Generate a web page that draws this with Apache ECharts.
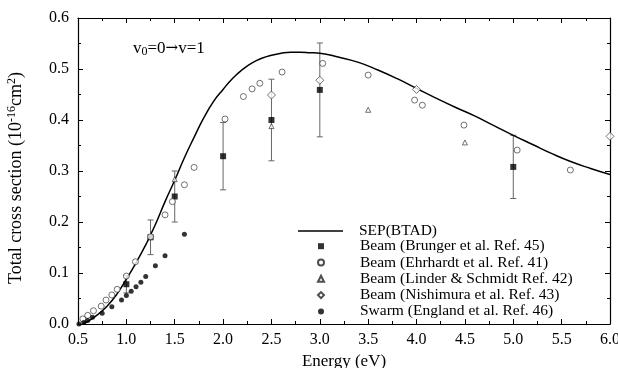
<!DOCTYPE html>
<html>
<head>
<meta charset="utf-8">
<script src="https://cdn.jsdelivr.net/npm/echarts@6/dist/echarts.min.js"></script>
<style>
html,body{margin:0;padding:0;background:#fff;}
#chart{width:618px;height:368px;}
</style>
</head>
<body>
<div id="chart"></div>
<script>
// ---- Data ----
var xTicks = [0.5, 1.0, 1.5, 2.0, 2.5, 3.0, 3.5, 4.0, 4.5, 5.0, 5.5, 6.0];
var yTicks = [0.0, 0.1, 0.2, 0.3, 0.4, 0.5, 0.6];

var sepX = [0.55, 0.6, 0.7, 0.8, 0.9, 1.0, 1.1, 1.2, 1.25, 1.3, 1.4, 1.5, 1.6, 1.7, 1.8, 1.9, 2.0, 2.1, 2.2, 2.3, 2.4, 2.5, 2.6, 2.7, 2.8, 2.9, 3.0, 3.2, 3.4, 3.6, 3.8, 4.0, 4.2, 4.4, 4.6, 4.8, 5.0, 5.2, 5.4, 5.6, 5.8, 6.0];
var sepY = [0.0, 0.005, 0.018, 0.035, 0.058, 0.088, 0.12, 0.155, 0.175, 0.195, 0.24, 0.282, 0.326, 0.366, 0.404, 0.436, 0.46, 0.482, 0.499, 0.512, 0.521, 0.527, 0.531, 0.533, 0.533, 0.532, 0.531, 0.523, 0.513, 0.498, 0.481, 0.462, 0.443, 0.425, 0.408, 0.389, 0.37, 0.352, 0.334, 0.318, 0.305, 0.293];

var brungerX = [1.0, 1.25, 1.5, 2.0, 2.5, 3.0, 5.0];
var brungerY = [0.078, 0.170, 0.250, 0.329, 0.400, 0.459, 0.308];
var brungerErr = [0.017, 0.034, 0.050, 0.066, 0.080, 0.092, 0.062];

var ehrhardtX = [0.55, 0.60, 0.66, 0.74, 0.79, 0.85, 0.905, 1.0, 1.094, 1.25, 1.40, 1.476, 1.60, 1.70, 2.02, 2.21, 2.30, 2.38, 2.61, 3.03, 3.50, 3.98, 4.06, 4.49, 5.04, 5.59];
var ehrhardtY = [0.010, 0.017, 0.026, 0.035, 0.047, 0.057, 0.068, 0.094, 0.122, 0.171, 0.214, 0.240, 0.273, 0.307, 0.402, 0.446, 0.461, 0.472, 0.494, 0.511, 0.488, 0.439, 0.429, 0.390, 0.341, 0.302];

var linderX = [1.5, 2.5, 3.5, 4.5];
var linderY = [0.284, 0.388, 0.420, 0.356];

var nishimuraX = [2.5, 3.0, 4.0, 6.0];
var nishimuraY = [0.449, 0.478, 0.460, 0.368];

var swarmX = [0.51, 0.56, 0.60, 0.65, 0.75, 0.85, 0.95, 1.0, 1.05, 1.10, 1.15, 1.20, 1.30, 1.40, 1.60];
var swarmY = [0.0, 0.003, 0.007, 0.013, 0.021, 0.034, 0.047, 0.056, 0.064, 0.073, 0.082, 0.093, 0.114, 0.134, 0.176];

var seriesNames = ['SEP(BTAD)', 'Beam (Brunger et al. Ref. 45)', 'Beam (Ehrhardt et al. Ref. 41)', 'Beam (Linder & Schmidt Ref. 42)', 'Beam (Nishimura et al. Ref. 43)', 'Swarm (England et al. Ref. 46)'];

function zip(a, b) { return a.map(function (v, i) { return [v, b[i]]; }); }

var FONT = 'Liberation Serif';
var chart = echarts.init(document.getElementById('chart'), null, {renderer: 'canvas'});

function axisBase(pos, showLabel, minV, maxV, interval, isX) {
  return {
    type: 'value', position: pos, min: minV, max: maxV, interval: interval,
    axisLine: {show: true, onZero: false, lineStyle: {color: '#000', width: 1.2}},
    axisTick: {show: true, inside: true, length: 5, lineStyle: {color: '#000', width: 1}},
    minorTick: {show: true, splitNumber: 2, length: 3, lineStyle: {color: '#000', width: 1}},
    splitLine: {show: false},
    axisLabel: {
      show: showLabel, color: '#000', fontFamily: FONT, fontSize: 16, margin: isX ? 8 : 9,
      formatter: function (v) { return v.toFixed(1); }
    }
  };
}

var xBottom = axisBase('bottom', true, xTicks[0], xTicks[xTicks.length - 1], 0.5, true);
xBottom.name = 'Energy (eV)';
xBottom.nameLocation = 'middle';
xBottom.nameGap = 25;
xBottom.nameTextStyle = {fontFamily: FONT, fontSize: 17, color: '#000'};
var xTop = axisBase('top', false, xTicks[0], xTicks[xTicks.length - 1], 0.5, true);

var yLeft = axisBase('left', true, yTicks[0], yTicks[yTicks.length - 1], 0.1, false);
yLeft.name = '{t|Total cross section (10}{s|-16}{t|cm}{s|2}{t|)}';
yLeft.nameLocation = 'middle';
yLeft.nameRotate = 90;
yLeft.nameGap = 52;
yLeft.nameTextStyle = {
  color: '#000',
  padding: [0, 14, 0, 0],
  rich: {
    t: {fontFamily: FONT, fontSize: 18, color: '#000'},
    s: {fontFamily: FONT, fontSize: 12, color: '#000', verticalAlign: 'top', padding: [0, 0, 8, 0]}
  }
};
var yRight = axisBase('right', false, yTicks[0], yTicks[yTicks.length - 1], 0.1, false);

var legendText = {fontFamily: FONT, fontSize: 15.5, lineHeight: 15, color: '#000'};

var option = {
  backgroundColor: '#fff',
  animation: false,
  grid: {left: 78, right: 8, top: 18, bottom: 44, outerBoundsMode: 'none', containLabel: false},
  xAxis: [xBottom, xTop],
  yAxis: [yLeft, yRight],
  title: {
    text: '{b|v}{s|0}{b|=0}{a|\u2192}{b|v=1}',
    left: 128, top: 34,
    textStyle: {
      fontWeight: 'normal',
      rich: {
        b: {fontFamily: FONT, fontSize: 17, fontWeight: 'normal', color: '#000'},
        a: {fontFamily: 'DejaVu Serif', fontSize: 15, fontWeight: 'normal', color: '#000'},
        s: {fontFamily: FONT, fontSize: 12, fontWeight: 'normal', color: '#000', padding: [7, 0, 0, 0]}
      }
    }
  },
  legend: [
    {
      orient: 'vertical', left: 298, top: 223, padding: 0,
      itemWidth: 45, itemHeight: 1.5, itemGap: 0, selectedMode: false,
      data: [{name: seriesNames[0], icon: 'rect'}],
      textStyle: Object.assign({padding: [0, 0, 0, 11]}, legendText)
    },
    {
      orient: 'vertical', left: 317, top: 238.2, padding: 0,
      itemWidth: 6, itemHeight: 6, itemGap: 0.3, selectedMode: false,
      data: seriesNames.slice(1),
      textStyle: Object.assign({padding: [0, 0, 0, 31]}, legendText)
    }
  ],
  series: [
    {
      name: seriesNames[0], type: 'line', data: zip(sepX, sepY), smooth: true,
      symbol: 'none', showSymbol: false, lineStyle: {color: '#000', width: 1.5}, itemStyle: {color: '#000'}, z: 3
    },
    {
      name: 'errorbars', type: 'custom', xAxisIndex: 0, yAxisIndex: 0,
      data: brungerX.map(function (x, i) { return [x, brungerY[i], brungerErr[i]]; }),
      renderItem: function (params, api) {
        var x = api.value(0), y = api.value(1), e = api.value(2);
        var top = api.coord([x, y + e]);
        var bot = api.coord([x, y - e]);
        var st = {stroke: '#666', lineWidth: 1};
        return {
          type: 'group', children: [
            {type: 'line', shape: {x1: top[0], y1: top[1], x2: bot[0], y2: bot[1]}, style: st},
            {type: 'line', shape: {x1: top[0] - 3, y1: top[1], x2: top[0] + 3, y2: top[1]}, style: st},
            {type: 'line', shape: {x1: bot[0] - 3, y1: bot[1], x2: bot[0] + 3, y2: bot[1]}, style: st}
          ]
        };
      },
      z: 2, silent: true
    },
    {
      name: seriesNames[1], type: 'scatter', data: zip(brungerX, brungerY),
      symbol: 'rect', symbolSize: 6, itemStyle: {color: '#000'}, z: 4
    },
    {
      name: seriesNames[2], type: 'scatter', data: zip(ehrhardtX, ehrhardtY),
      symbol: 'circle', symbolSize: 6, itemStyle: {color: '#fff', borderColor: '#222', borderWidth: 0.8}, z: 4
    },
    {
      name: seriesNames[3], type: 'scatter', data: zip(linderX, linderY),
      symbol: 'triangle', symbolSize: 5, itemStyle: {color: '#fff', borderColor: '#222', borderWidth: 0.8}, z: 4
    },
    {
      name: seriesNames[4], type: 'scatter', data: zip(nishimuraX, nishimuraY),
      symbol: 'diamond', symbolSize: 8, itemStyle: {color: '#fff', borderColor: '#222', borderWidth: 0.8}, z: 4
    },
    {
      name: seriesNames[5], type: 'scatter', data: zip(swarmX, swarmY),
      symbol: 'circle', symbolSize: 5, itemStyle: {color: '#000'}, z: 4
    }
  ]
};
chart.setOption(option);
</script>
</body>
</html>
